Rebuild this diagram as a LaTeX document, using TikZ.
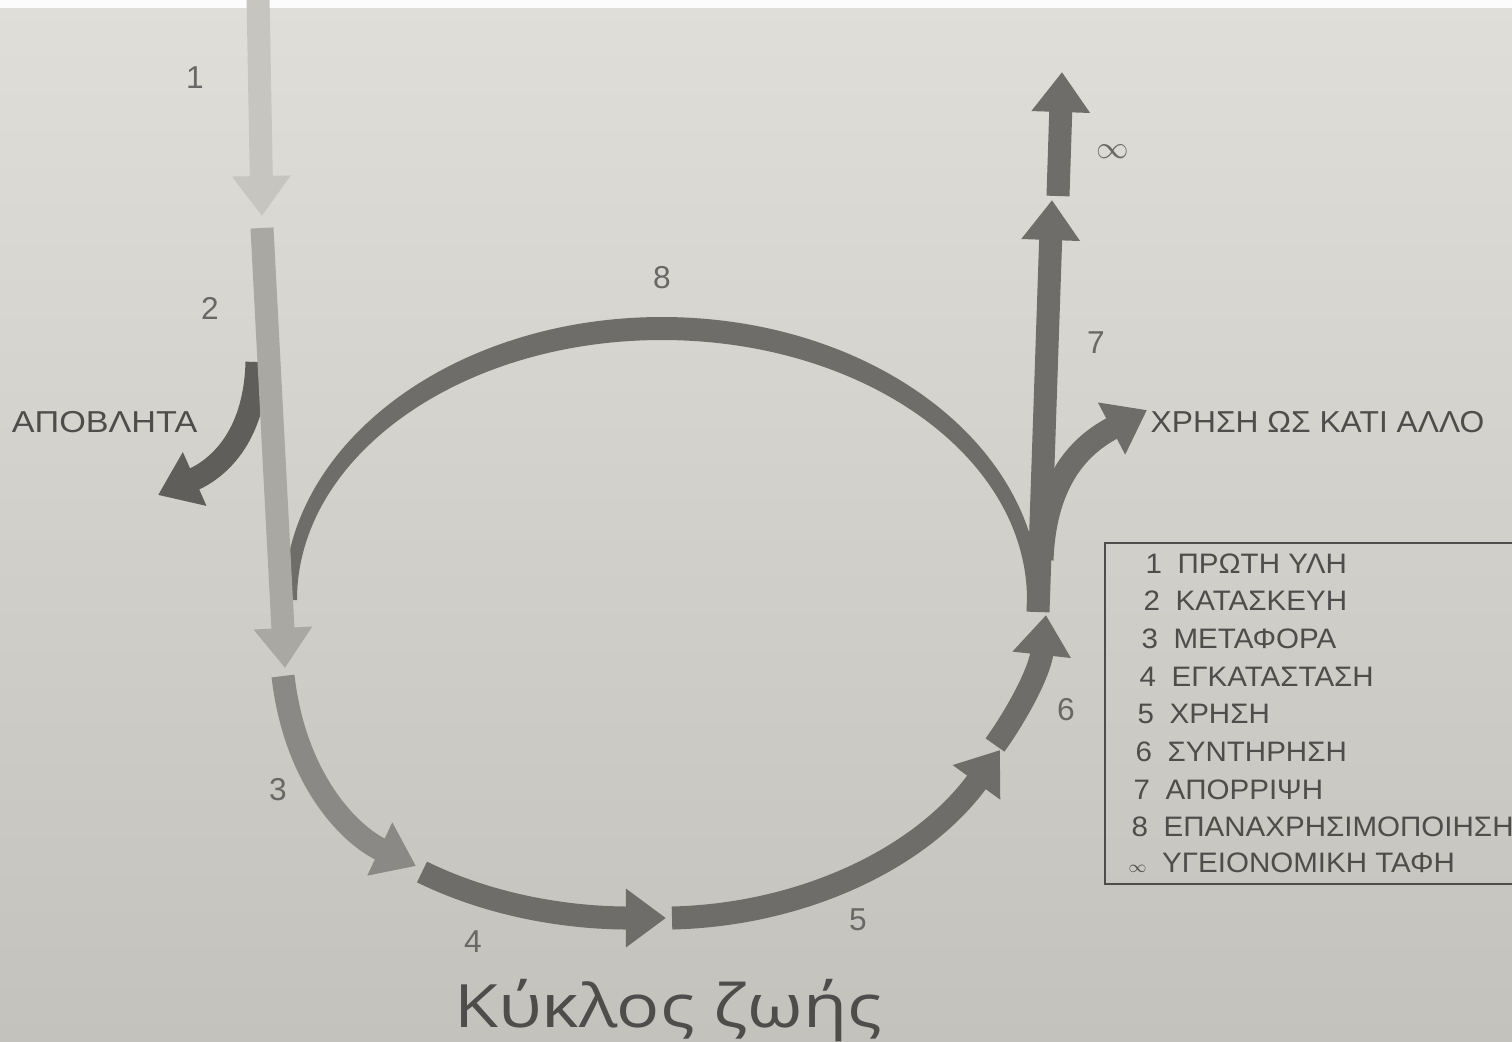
\documentclass[tikz,border=0pt]{standalone}
\usepackage{fontspec}
\setmainfont{Liberation Sans}
\newfontfamily\titlefont[FakeStretch=1.2]{Open Sans}
\newfontfamily\widefont[FakeStretch=1.05]{Liberation Sans}
\newfontfamily\widerfont[FakeStretch=1.13]{Liberation Sans}
\usetikzlibrary{arrows.meta}

\definecolor{pagetop}{HTML}{DFDED9}
\definecolor{pagebot}{HTML}{C4C2BC}
\definecolor{rawcol}{HTML}{C6C5BF}
\definecolor{makecol}{HTML}{A9A8A3}
\definecolor{movecol}{HTML}{8A8985}
\definecolor{flowcol}{HTML}{6E6D6A}
\definecolor{wastecol}{HTML}{5F5E5B}
\definecolor{inkcol}{HTML}{4E4D4B}

\tikzset{
    flow/.style={line width=2.3mm, draw=flowcol, -{Triangle[width=5.6mm,length=4mm]}},
    stepnum/.style={text=inkcol!85, font=\fontsize{9}{10}\selectfont, inner sep=0pt},
    sidetext/.style={text=inkcol, font=\widefont\fontsize{8.6}{10}\selectfont, inner sep=0pt},
    legline/.style={text=inkcol, font=\widefont\fontsize{8}{10}\selectfont, inner sep=0pt, anchor=base west}
}

\begin{document}
\begin{tikzpicture}[x=0.01cm, y=-0.01cm]
    \useasboundingbox (0,0) rectangle (1512,1041);
    \clip (0,0) rectangle (1512,1041);
    \shade[top color=pagetop, bottom color=pagebot] (0,0) rectangle (1512,1041);
    \fill[white!92!pagetop] (0,0) rectangle (1512,8);

    % points of the cycle
    \coordinate (rawA) at (258,-5);
    \coordinate (rawB) at (262,216);
    \coordinate (makeA) at (262,228);
    \coordinate (makeB) at (285,668);
    \coordinate (wasteA) at (257,362);
    \coordinate (wasteB) at (158,495);
    \coordinate (moveA) at (283,676);
    \coordinate (moveB) at (416,866);
    \coordinate (fitA) at (422,872);
    \coordinate (fitB) at (666,918);
    \coordinate (useA) at (672,918);
    \coordinate (useB) at (1000,750);
    \coordinate (careA) at (995,745);
    \coordinate (careB) at (1046,615);
    \coordinate (dropA) at (1038,612);
    \coordinate (dropB) at (1052,200);
    \coordinate (buryA) at (1058,196);
    \coordinate (buryB) at (1062,72);
    \coordinate (otherA) at (1042,560);
    \coordinate (otherB) at (1147,410);
    \coordinate (loopL) at (284,600);
    \coordinate (loopR) at (1027,600);

    % reuse loop (8), thinner at its ends
    \fill[flowcol] (loopL) arc[start angle=180, end angle=360, x radius=378, y radius=283]
        -- (loopR) arc[start angle=360, end angle=180, x radius=365, y radius=260] -- cycle;
    % other use branch
    \draw[flow] (otherA) .. controls (1045,480) and (1080,445) .. (otherB);
    % disposal (7) and landfill
    \draw[flow] (dropA) -- (dropB);
    \draw[flow] (buryA) -- (buryB);

    % waste
    \draw[flow, draw=wastecol, line width=2.3mm] (wasteA) .. controls (255,440) and (215,470) .. (wasteB);
    % raw material and making
    \draw[flow, draw=rawcol] (rawA) -- (rawB);
    \draw[flow, draw=makecol] (makeA) -- (makeB);
    % transport, installation, use, maintenance
    \draw[flow, draw=movecol] (moveA) .. controls (295,780) and (350,835) .. (moveB);
    \draw[flow] (fitA) .. controls (500,910) and (580,918) .. (fitB);
    \draw[flow] (useA) .. controls (800,915) and (920,860) .. (useB);
    \draw[flow] (careA) .. controls (1020,710) and (1040,670) .. (careB);

    % step numbers
    \node[stepnum] (n1) at (195,78) {1};
    \node[stepnum] (n2) at (210,308) {2};
    \node[stepnum] (n3) at (278,790) {3};
    \node[stepnum] (n4) at (473,942) {4};
    \node[stepnum] (n5) at (858,920) {5};
    \node[stepnum] (n6) at (1066,710) {6};
    \node[stepnum] (n7) at (1096,343) {7};
    \node[stepnum] (n8) at (662,278) {8};
    \node[stepnum] (ninf) at (1113,152) {$\infty$};

    \node[sidetext, font=\widerfont\fontsize{8.6}{10}\selectfont, anchor=east] (waste) at (198,422) {ΑΠΟΒΛΗΤΑ};
    \node[sidetext, anchor=west] (other) at (1150,422) {ΧΡΗΣΗ ΩΣ ΚΑΤΙ ΑΛΛΟ};

    % legend
    \draw[inkcol, line width=0.5pt] (1530,543) -- (1105,543) -- (1105,884) -- (1530,884);
    \foreach \i/\t in {1/ΠΡΩΤΗ ΥΛΗ, 2/ΚΑΤΑΣΚΕΥΗ, 3/ΜΕΤΑΦΟΡΑ, 4/ΕΓΚΑΤΑΣΤΑΣΗ,
                       5/ΧΡΗΣΗ, 6/ΣΥΝΤΗΡΗΣΗ, 7/ΑΠΟΡΡΙΨΗ, 8/ΕΠΑΝΑΧΡΗΣΙΜΟΠΟΙΗΣΗ}
        \node[legline] (leg\i) at ({1147-2*\i}, {573+37.7*(\i-1)}) {\i\hspace{0.55em}\t};
    \node[legline] (leg9) at (1128,872) {\scalebox{0.6}{$\infty$}\hspace{0.55em}ΥΓΕΙΟΝΟΜΙΚΗ ΤΑΦΗ};

    % title
    \node[text=inkcol, font=\titlefont\fontsize{17}{20}\selectfont, anchor=base, inner sep=0pt]
        (title) at (668,1027) {Κύκλος ζωής};
\end{tikzpicture}
\end{document}
